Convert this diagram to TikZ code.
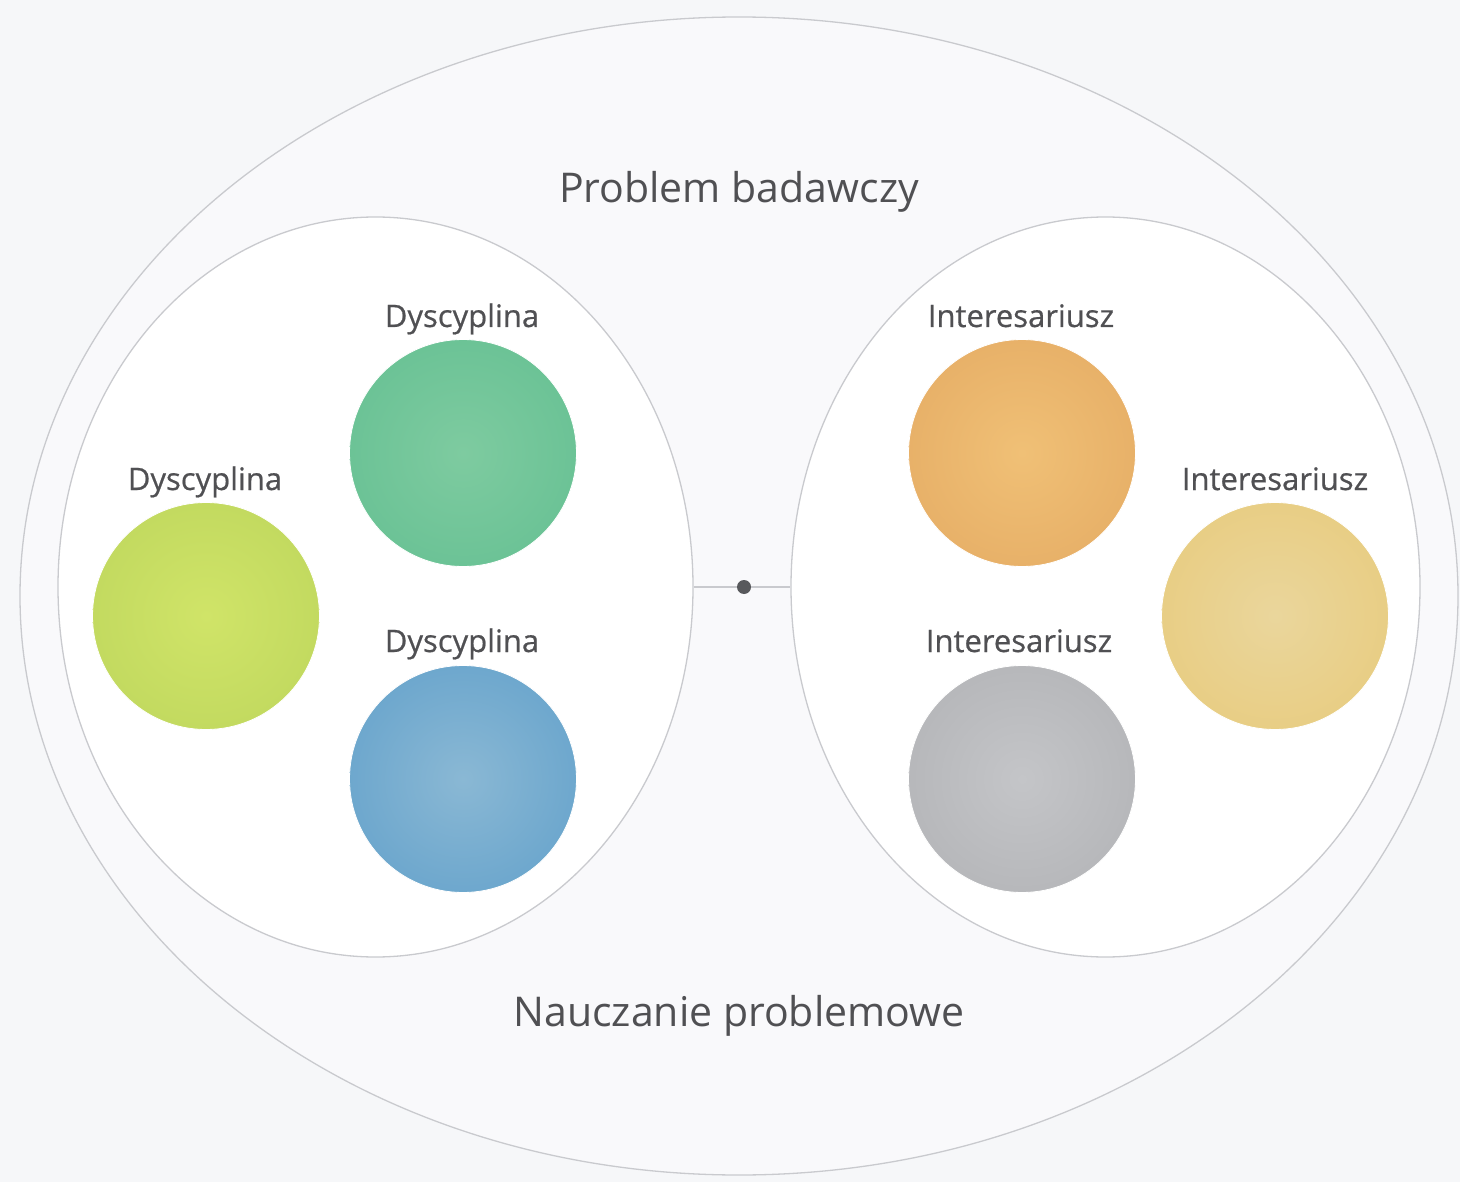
\documentclass[tikz,border=0pt]{standalone}
\usepackage{fontspec}
\setmainfont{Open Sans}
\newfontfamily\lblfont[FakeBold=0.6]{Open Sans}
\usetikzlibrary{shapes.geometric}
\definecolor{bg}{HTML}{F6F7F9}
\definecolor{inbg}{HTML}{F9F9FB}
\definecolor{rim}{HTML}{C9CACE}
\definecolor{txt}{HTML}{505053}
\definecolor{dotc}{HTML}{58595C}
\pgfdeclareradialshading{greenball}{\pgfpoint{0bp}{0bp}}{color(0bp)=(rgb,255:red,126;green,203;blue,160); color(30bp)=(rgb,255:red,104;green,193;blue,148); color(50bp)=(rgb,255:red,62;green,176;blue,128)}
\pgfdeclareradialshading{limeball}{\pgfpoint{0bp}{0bp}}{color(0bp)=(rgb,255:red,208;green,228;blue,104); color(30bp)=(rgb,255:red,192;green,216;blue,94); color(50bp)=(rgb,255:red,160;green,196;blue,82)}
\pgfdeclareradialshading{blueball}{\pgfpoint{0bp}{0bp}}{color(0bp)=(rgb,255:red,138;green,184;blue,212); color(30bp)=(rgb,255:red,104;green,164;blue,204); color(50bp)=(rgb,255:red,46;green,134;blue,196)}
\pgfdeclareradialshading{orangeball}{\pgfpoint{0bp}{0bp}}{color(0bp)=(rgb,255:red,240;green,192;blue,118); color(30bp)=(rgb,255:red,230;green,174;blue,102); color(50bp)=(rgb,255:red,208;green,148;blue,82)}
\pgfdeclareradialshading{yellowball}{\pgfpoint{0bp}{0bp}}{color(0bp)=(rgb,255:red,234;green,214;blue,156); color(30bp)=(rgb,255:red,232;green,204;blue,128); color(50bp)=(rgb,255:red,226;green,188;blue,94)}
\pgfdeclareradialshading{grayball}{\pgfpoint{0bp}{0bp}}{color(0bp)=(rgb,255:red,196;green,197;blue,200); color(30bp)=(rgb,255:red,180;green,181;blue,184); color(50bp)=(rgb,255:red,152;green,153;blue,158)}
\tikzset{
  frame/.style={ellipse, draw=rim, line width=1.3pt, inner sep=0pt},
  ball/.style={circle, minimum size=227pt, inner sep=0pt, shading=#1, draw=white, line width=0.8pt},
  lbl/.style={text=txt, font=\lblfont\fontsize{31}{34}\selectfont, inner sep=0pt, anchor=base},
  title/.style={text=txt, font=\fontsize{41}{46}\selectfont, inner sep=0pt, anchor=base},
}
\begin{document}
\begin{tikzpicture}[x=1pt,y=-1pt]
\fill[bg] (0,0) rectangle (1460,1182);
\useasboundingbox (0,0) rectangle (1460,1182);
\node[frame, fill=inbg, minimum width=1438pt, minimum height=1158pt] (outer) at (739,596) {};
\node[frame, fill=white, minimum width=635pt, minimum height=740pt] (left) at (375.5,587) {};
\node[frame, fill=white, minimum width=629pt, minimum height=740pt] (right) at (1105.5,587) {};
\node[circle, fill=dotc, minimum size=14pt, inner sep=0pt] (dot) at (744,587) {};
\draw[rim, line width=1.3pt] (left.east) -- (dot);
\draw[rim, line width=1.3pt] (dot) -- (right.west);
\node[title] (t1) at (739,203) {Problem badawczy};
\node[title] (t2) at (739,1026) {Nauczanie problemowe};
\node[ball=greenball] (g) at (463,453) {};
\node[ball=limeball] (l) at (206,616) {};
\node[ball=blueball] (b) at (463,779) {};
\node[ball=orangeball] (o) at (1022,453) {};
\node[ball=yellowball] (y) at (1275,616) {};
\node[ball=grayball] (gr) at (1022,779) {};
\node[lbl] (lg) at (462,327) {Dyscyplina};
\node[lbl] (ll) at (205,490) {Dyscyplina};
\node[lbl] (lb) at (462,652) {Dyscyplina};
\node[lbl] (lo) at (1021,327) {Interesariusz};
\node[lbl] (ly) at (1275,490) {Interesariusz};
\node[lbl] (lgr) at (1019,652) {Interesariusz};
\end{tikzpicture}
\end{document}
